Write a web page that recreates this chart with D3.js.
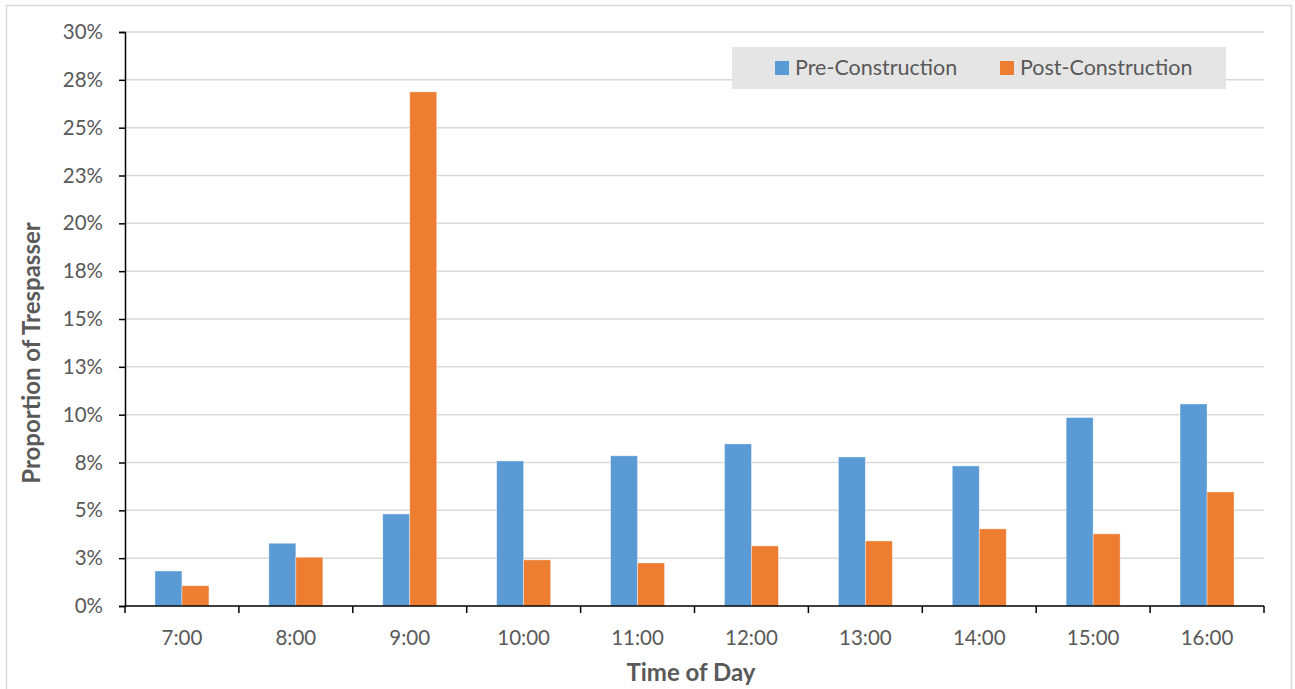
<!DOCTYPE html>
<html><head><meta charset="utf-8">
<script src="https://cdn.jsdelivr.net/npm/d3@7"></script>
<style>body{margin:0;background:#fff;} svg{display:block;font-family:Lato,"Open Sans",sans-serif;}</style>
</head><body>
<svg id="c" width="1295" height="689"></svg>
<script>
const categories = ["7:00","8:00","9:00","10:00","11:00","12:00","13:00","14:00","15:00","16:00"];
const seriesNames = ["Pre-Construction","Post-Construction"];
const preValues  = [1.83, 3.28, 4.81, 7.58, 7.85, 8.47, 7.79, 7.32, 9.85, 10.56];
const postValues = [1.06, 2.55, 26.87, 2.41, 2.25, 3.14, 3.40, 4.03, 3.77, 5.96];
const yTickValues = [0,2.5,5,7.5,10,12.5,15,17.5,20,22.5,25,27.5,30];
const yTickLabels = ["0%","3%","5%","8%","10%","13%","15%","18%","20%","23%","25%","28%","30%"];
const colors = ["#5B9BD5","#ED7D31"];

const svg = d3.select("#c");
svg.append("rect").attr("x",6.5).attr("y",5.5).attr("width",1285).attr("height",700)
  .attr("fill","#fff").attr("stroke","#d9d9d9").attr("stroke-width",1.5);

const L=125, R=1264, T=32, B=606;
const x0 = d3.scaleBand().domain(categories).range([L,R]).padding(0);
const x1 = d3.scaleBand().domain(seriesNames).range([0,x0.bandwidth()]).paddingInner(0).paddingOuter(1.11);
const y = d3.scaleLinear().domain([0,30]).range([B,T]);

// gridlines
svg.append("g").selectAll("line").data(yTickValues.slice(1)).join("line")
  .attr("x1",L).attr("x2",R).attr("y1",d=>y(d)).attr("y2",d=>y(d))
  .attr("stroke","#d9d9d9").attr("stroke-width",1.5);

// bars
const data = categories.map((c,i)=>({c, vals:[preValues[i],postValues[i]]}));
const g = svg.append("g").selectAll("g").data(data).join("g")
  .attr("transform",d=>`translate(${x0(d.c)},0)`);
g.selectAll("rect").data(d=>d.vals.map((v,j)=>({v,j}))).join("rect")
  .attr("x",d=>x1(seriesNames[d.j])).attr("width",x1.bandwidth())
  .attr("y",d=>y(d.v)).attr("height",d=>B-y(d.v))
  .attr("fill",d=>colors[d.j]).attr("stroke","#fff").attr("stroke-opacity",0.5).attr("stroke-width",0.75);

// y axis
const yAxis = d3.axisLeft(y).tickValues(yTickValues).tickFormat((d,i)=>yTickLabels[i]).tickSize(6).tickPadding(16);
const ya = svg.append("g").attr("transform",`translate(${L},0)`).call(yAxis);
ya.select(".domain").attr("stroke","#000").attr("stroke-width",1.5);
ya.selectAll(".tick line").attr("stroke","#000").attr("stroke-width",1.5);
ya.selectAll(".tick text").attr("fill","#595959").attr("font-size",20.5).attr("font-family","Lato,sans-serif");

// x axis
const xa = svg.append("g").attr("transform",`translate(0,${B})`);
xa.append("line").attr("x1",L).attr("x2",R).attr("stroke","#000").attr("stroke-width",1.5);
const bounds = categories.map(c=>x0(c)).concat([R]);
xa.selectAll("line.tk").data(bounds).join("line").attr("class","tk")
  .attr("x1",d=>d).attr("x2",d=>d).attr("y1",0).attr("y2",7)
  .attr("stroke","#000").attr("stroke-width",1.5);
xa.selectAll("text").data(categories).join("text")
  .attr("x",d=>x0(d)+x0.bandwidth()/2).attr("y",39)
  .attr("text-anchor","middle").attr("fill","#595959").attr("font-size",20.5).text(d=>d);

// axis titles
svg.append("text").attr("transform","translate(40,353) rotate(-90)")
  .attr("text-anchor","middle").attr("font-weight","bold").attr("font-size",24)
  .attr("fill","#595959").text("Proportion of Trespasser");
svg.append("text").attr("x",691).attr("y",681).attr("text-anchor","middle")
  .attr("font-weight","bold").attr("font-size",24).attr("fill","#595959").text("Time of Day");

// legend
const lg = svg.append("g");
lg.append("rect").attr("x",732).attr("y",47).attr("width",494).attr("height",42).attr("fill","#e5e5e5");
const legX = [775, 1000];
seriesNames.forEach((s,i)=>{
  lg.append("rect").attr("x",legX[i]).attr("y",61).attr("width",14).attr("height",14).attr("fill",colors[i]);
  lg.append("text").attr("x",legX[i]+20).attr("y",75).attr("font-size",21.5).attr("fill","#595959").text(s);
});
</script>
</body></html>
